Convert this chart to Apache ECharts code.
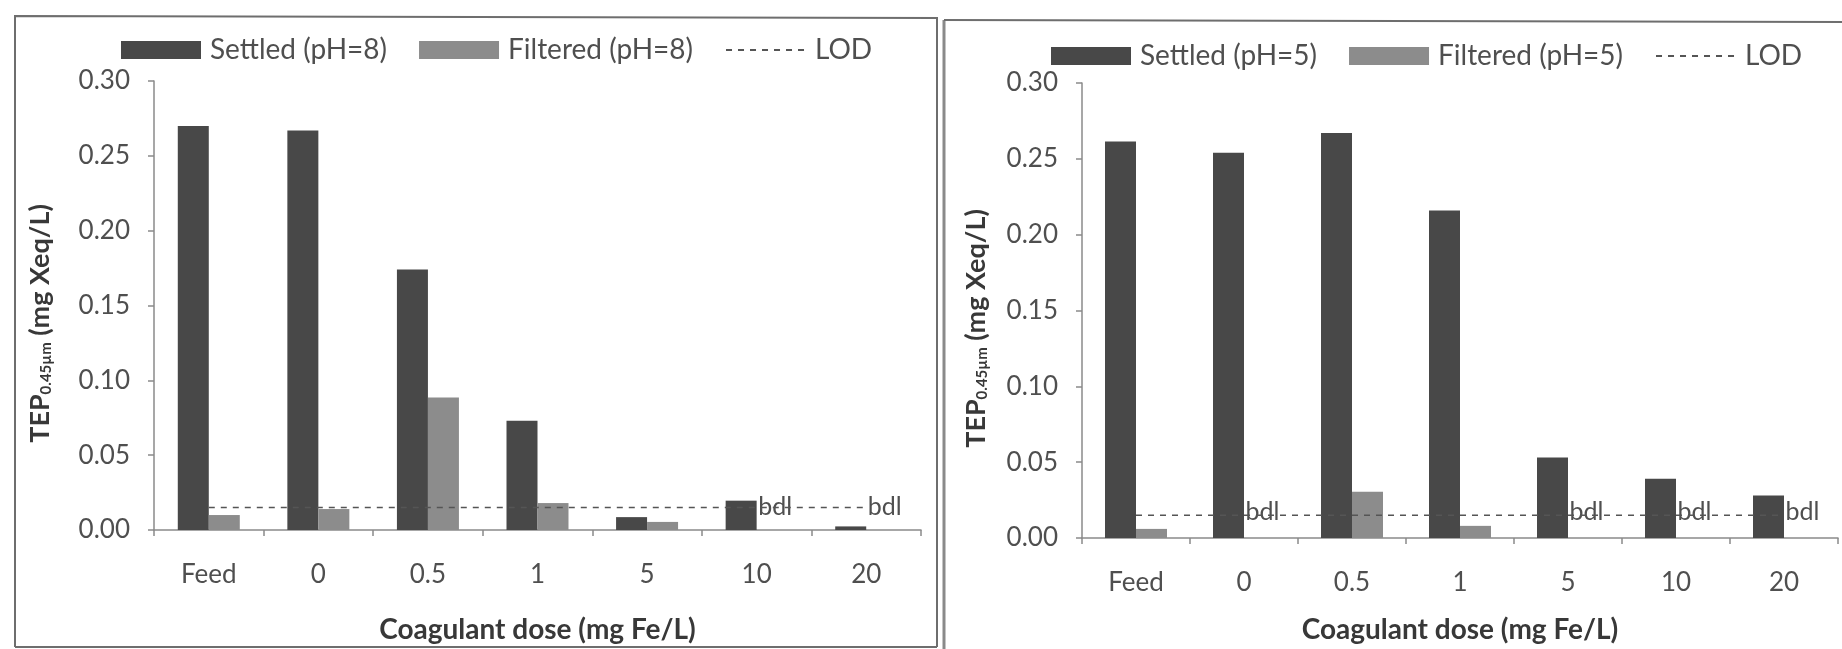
<!DOCTYPE html>
<html>
<head>
<meta charset="utf-8">
<script src="https://cdn.jsdelivr.net/npm/echarts@6/dist/echarts.min.js"></script>
<style>
  html, body { margin: 0; padding: 0; background: #ffffff; }
  #chart { width: 1842px; height: 649px; }
</style>
</head>
<body>
<div id="chart"></div>
<script>
// ---- data ----
const categories = ['Feed', '0', '0.5', '1', '5', '10', '20'];
const yTicks = [0, 0.05, 0.10, 0.15, 0.20, 0.25, 0.30];

// Left panel: pH = 8
const settledPH8 = [0.270, 0.267, 0.174, 0.073, 0.0086, 0.0196, 0.0024];
const filteredPH8 = [0.010, 0.014, 0.0886, 0.018, 0.0054, 0, 0];
const bdlPH8 = [false, false, false, false, false, true, true];
const lodPH8 = [0.015, 0.015, 0.015, 0.015, 0.015, 0.015, 0.015];

// Right panel: pH = 5
const settledPH5 = [0.2615, 0.254, 0.267, 0.216, 0.053, 0.039, 0.028];
const filteredPH5 = [0.006, 0, 0.0305, 0.008, 0, 0, 0];
const bdlPH5 = [false, true, false, false, true, true, true];
const lodPH5 = [0.015, 0.015, 0.015, 0.015, 0.015, 0.015, 0.015];

const seriesNames = {
  left: ['Settled (pH=8)', 'Filtered (pH=8)', 'LOD'],
  right: ['Settled (pH=5)', 'Filtered (pH=5)', 'LOD']
};

// ---- styles ----
const FONT = 'Lato, "Open Sans", sans-serif';
const SETTLED_COLOR = '#484848';
const FILTERED_COLOR = '#8c8c8c';
const AXIS_COLOR = '#8a8a8a';
const LABEL_COLOR = '#4f4f4f';
const NAME_COLOR = '#383838';

function filteredData(vals, bdl, dy) {
  return vals.map((v, i) => bdl[i]
    ? { value: v, label: { show: true, formatter: 'bdl', position: 'top', distance: 2, offset: [3, dy],
        color: LABEL_COLOR, fontSize: 25, fontFamily: FONT } }
    : v);
}

function xAxisDef(gridIndex, nameGap) {
  return {
    type: 'category', gridIndex, data: categories,
    name: 'Coagulant dose (mg Fe/L)', nameLocation: 'middle', nameGap,
    nameTextStyle: { fontFamily: FONT, fontSize: 28, fontWeight: 'bold', color: NAME_COLOR },
    axisLine: { lineStyle: { color: AXIS_COLOR, width: 1.5 } },
    axisTick: { show: true, length: 6, lineStyle: { color: AXIS_COLOR, width: 1.5 } },
    axisLabel: { fontFamily: FONT, fontSize: 26, color: LABEL_COLOR, margin: 32 },
    splitLine: { show: false }
  };
}

function yAxisDef(gridIndex, nameGap) {
  return {
    type: 'value', gridIndex, min: 0, max: 0.30, interval: 0.05,
    name: 'TEP{sub|0.45µm} (mg Xeq/L)', nameLocation: 'middle', nameGap, nameRotate: 90,
    nameTextStyle: {
      fontFamily: FONT, fontSize: 27, fontWeight: 'bold', color: NAME_COLOR,
      padding: [0, 36, 0, 0],
      rich: { sub: { fontFamily: FONT, fontSize: 15, fontWeight: 'bold', color: NAME_COLOR, verticalAlign: 'bottom', padding: [12, 0, 0, 0] } }
    },
    axisLine: { show: true, lineStyle: { color: AXIS_COLOR, width: 1.5 } },
    axisTick: { show: true, length: 6, lineStyle: { color: AXIS_COLOR, width: 1.5 } },
    axisLabel: { fontFamily: FONT, fontSize: 26, color: LABEL_COLOR, margin: 24,
      formatter: v => v.toFixed(2) },
    splitLine: { show: false }
  };
}

function seriesFor(idx, names, settled, filtered, bdl, lod, dy) {
  return [
    { name: names[0], type: 'bar', xAxisIndex: idx, yAxisIndex: idx, data: settled,
      barWidth: 31, barGap: '0%', itemStyle: { color: SETTLED_COLOR }, z: 2 },
    { name: names[1], type: 'bar', xAxisIndex: idx, yAxisIndex: idx, data: filteredData(filtered, bdl, dy),
      barWidth: 31, barGap: '0%', itemStyle: { color: FILTERED_COLOR }, z: 2 },
    { name: names[2], type: 'line', xAxisIndex: idx, yAxisIndex: idx, data: lod,
      symbol: 'none', showSymbol: false, lineStyle: { color: '#555555', width: 1.5, type: [6, 6] },
      itemStyle: { color: '#555555' }, z: 3 }
  ];
}

function legendDef(names, left, top) {
  return {
    left, top, itemWidth: 80, itemHeight: 18, itemGap: 32,
    textStyle: { fontFamily: FONT, fontSize: 28, color: LABEL_COLOR, padding: [0, 0, 0, 4] },
    data: [
      { name: names[0], icon: 'rect', itemStyle: { color: SETTLED_COLOR } },
      { name: names[1], icon: 'rect', itemStyle: { color: FILTERED_COLOR } },
      { name: names[2], itemStyle: { opacity: 0 } }
    ],
    selectedMode: false
  };
}

const chart = echarts.init(document.getElementById('chart'));
chart.setOption({
  backgroundColor: '#ffffff',
  animation: false,
  grid: [
    { left: 154, top: 81, width: 767, height: 459 },
    { left: 1082, top: 83, width: 756, height: 467 }
  ],
  legend: [
    legendDef(seriesNames.left, 116, 31),
    legendDef(seriesNames.right, 1046, 37)
  ],
  xAxis: [xAxisDef(0, 86), xAxisDef(1, 78)],
  yAxis: [yAxisDef(0, 100), yAxisDef(1, 92)],
  series: [
    ...seriesFor(0, seriesNames.left, settledPH8, filteredPH8, bdlPH8, lodPH8, -9),
    ...seriesFor(1, seriesNames.right, settledPH5, filteredPH5, bdlPH5, lodPH5, -12)
  ],
  graphic: [
    { type: 'polyline', silent: true, shape: { points: [[15, 647], [15, 16], [937, 18], [937, 647]] },
      style: { stroke: '#6e6e6e', lineWidth: 2, fill: null } },
    { type: 'line', silent: true, shape: { x1: 944, y1: 20, x2: 944, y2: 649 },
      style: { stroke: '#8a8a8a', lineWidth: 3 } },
    { type: 'line', silent: true, shape: { x1: 944, y1: 20, x2: 1842, y2: 22 },
      style: { stroke: '#6e6e6e', lineWidth: 2 } },
    { type: 'line', silent: true, shape: { x1: 15, y1: 647, x2: 937, y2: 647 },
      style: { stroke: '#6e6e6e', lineWidth: 2 } }
  ]
});
</script>
</body>
</html>
